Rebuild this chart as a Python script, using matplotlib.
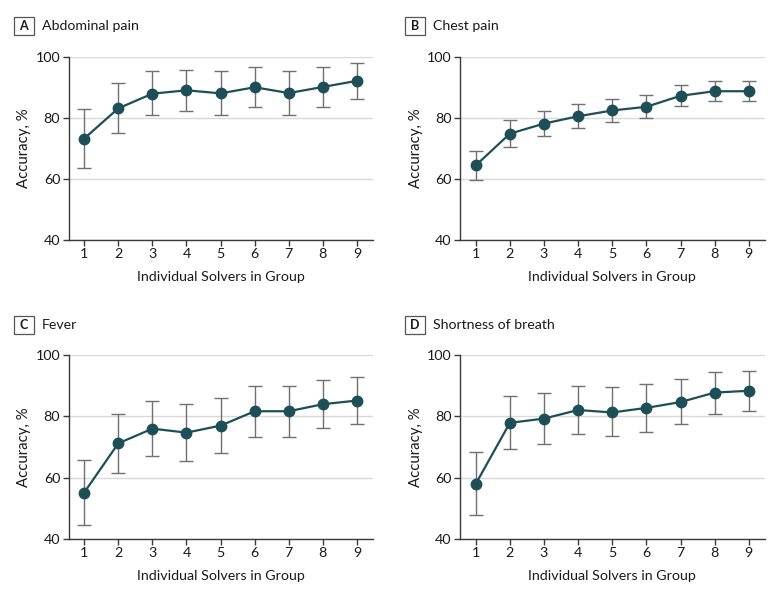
import matplotlib
matplotlib.use("Agg")
import matplotlib.pyplot as plt
from matplotlib.patches import Rectangle

plt.rcParams['font.family'] = ['Lato', 'DejaVu Sans']

solvers = [1, 2, 3, 4, 5, 6, 7, 8, 9]

panel_letters = ["A", "B", "C", "D"]
panel_titles = ["Abdominal pain", "Chest pain", "Fever", "Shortness of breath"]

abd_mean = [73.2, 83.1, 87.9, 89.0, 88.0, 90.0, 88.1, 90.1, 92.1]
abd_hi = [82.8, 91.4, 95.3, 95.8, 95.3, 96.7, 95.3, 96.7, 98.1]
abd_lo = [63.5, 74.9, 80.9, 82.3, 81.0, 83.5, 81.0, 83.5, 86.1]

chest_mean = [64.4, 74.8, 78.1, 80.5, 82.4, 83.6, 87.2, 88.7, 88.7]
chest_hi = [69.2, 79.3, 82.3, 84.4, 86.1, 87.3, 90.6, 91.9, 91.9]
chest_lo = [59.5, 70.4, 74.0, 76.5, 78.6, 80.0, 83.9, 85.4, 85.4]

fever_mean = [55.1, 71.2, 76.0, 74.7, 77.0, 81.7, 81.7, 84.0, 85.2]
fever_hi = [65.9, 80.9, 85.1, 84.0, 86.0, 89.9, 89.9, 91.8, 92.8]
fever_lo = [44.4, 61.6, 66.9, 65.4, 67.9, 73.4, 73.3, 76.1, 77.5]

sob_mean = [57.9, 77.9, 79.3, 82.1, 81.3, 82.8, 84.7, 87.8, 88.4]
sob_hi = [68.3, 86.6, 87.8, 90.1, 89.5, 90.6, 92.1, 94.5, 95.0]
sob_lo = [47.6, 69.2, 70.9, 74.1, 73.5, 75.0, 77.4, 80.7, 81.7]

y_ticks = [40, 60, 80, 100]

series = [(abd_mean, abd_hi, abd_lo), (chest_mean, chest_hi, chest_lo),
          (fever_mean, fever_hi, fever_lo), (sob_mean, sob_hi, sob_lo)]

W, H = 780, 596
fig = plt.figure(figsize=(7.8, 5.96), dpi=100)

# axes boxes in pixels: left, right, top, bottom
boxes = [(68.5, 372.7, 56.7, 240.0), (460.0, 764.5, 56.7, 240.0),
         (68.5, 372.7, 355.3, 538.7), (460.0, 764.5, 355.3, 538.7)]

line_color = "#1f4f56"
err_color = "#707070"
spine_color = "#3a3a3a"
text_color = "#1a1a1a"

for i, (l, r, t, b) in enumerate(boxes):
    ax = fig.add_axes([l / W, 1 - b / H, (r - l) / W, (b - t) / H])
    mean, hi, lo = series[i]
    yerr = [[m - v for m, v in zip(mean, lo)], [v - m for m, v in zip(mean, hi)]]
    ax.errorbar(solvers, mean, yerr=yerr, fmt='none', ecolor=err_color,
                elinewidth=1.0, capsize=4.7, capthick=1.0, zorder=2)
    ax.plot(solvers, mean, color=line_color, lw=1.6, marker='o',
            markersize=7.5, markerfacecolor=line_color, markeredgecolor=line_color,
            zorder=3, clip_on=False)
    ax.set_xlim(0.54, 9.46)
    ax.set_ylim(40, 100)
    ax.set_xticks(solvers)
    ax.set_yticks(y_ticks)
    ax.grid(axis='y', color='#d9d9d9', lw=1.0, zorder=0)
    ax.set_axisbelow(True)
    for s in ['top', 'right']:
        ax.spines[s].set_visible(False)
    for s in ['left', 'bottom']:
        ax.spines[s].set_color(spine_color)
        ax.spines[s].set_linewidth(1.0)
    ax.tick_params(axis='both', direction='out', length=4, width=1.0,
                   color=spine_color, labelsize=10.3, labelcolor=text_color, pad=2)
    ax.set_xlabel("Individual Solvers in Group", fontsize=10.3, color=text_color, labelpad=8)
    ax.set_ylabel("Accuracy, %", fontsize=10.8, color=text_color, labelpad=3)

    # panel label box
    bx = l - 55
    by = t - 39.5
    fig.patches.append(Rectangle((bx / W, 1 - (by + 18) / H), 20 / W, 18 / H,
                                 transform=fig.transFigure, fill=False,
                                 edgecolor='#555555', lw=0.9))
    fig.text((bx + 10) / W, 1 - (by + 9) / H, panel_letters[i], ha='center',
             va='center', fontsize=9, fontweight='bold', color=text_color)
    fig.text((bx + 28) / W, 1 - (by + 9) / H, panel_titles[i], ha='left',
             va='center', fontsize=10.2, color=text_color)

fig.savefig("out.png", dpi=100)
